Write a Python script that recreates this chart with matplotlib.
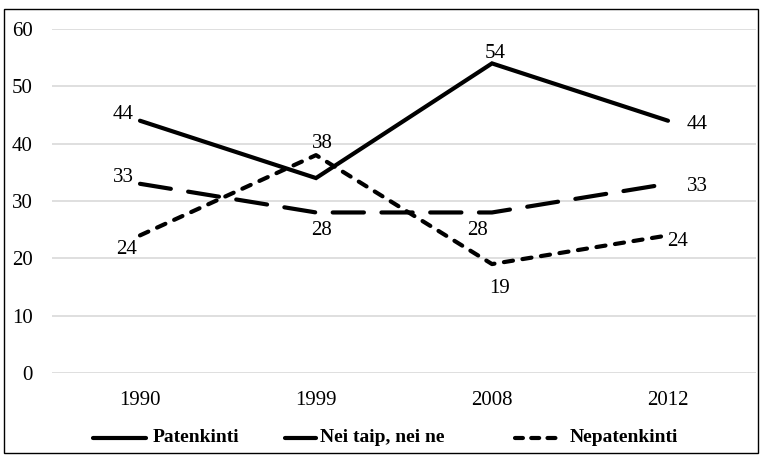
import matplotlib
matplotlib.use("Agg")
import matplotlib.pyplot as plt
from matplotlib.patches import Rectangle
from matplotlib.lines import Line2D

years = ["1990", "1999", "2008", "2012"]
patenkinti = [44, 34, 54, 44]
nei_taip = [33, 28, 28, 33]
nepatenkinti = [24, 38, 19, 24]
series_names = ["Patenkinti", "Nei taip, nei ne", "Nepatenkinti"]
yticks = [0, 10, 20, 30, 40, 50, 60]

plt.rcParams['font.family'] = ['Liberation Serif', 'DejaVu Serif']

W, H = 766, 459
fig = plt.figure(figsize=(W/100, H/100), dpi=100)
ax = fig.add_axes([52/W, 1 - 373/H, (756-52)/W, (373-29)/H])

x = list(range(len(years)))
lw = 3.0
dash_nei = (7.5, 4.2)
dash_nep = (2.2, 2.3)
ax.plot(x, patenkinti, color='black', lw=lw, solid_capstyle='round', solid_joinstyle='miter')
ax.plot(x, nei_taip, color='black', lw=lw, dashes=dash_nei, dash_capstyle='round')
ax.plot(x, nepatenkinti, color='black', lw=lw, dashes=dash_nep, dash_capstyle='round')

ax.set_xlim(-0.5, 3.5)
ax.set_ylim(0, 60)
ax.set_yticks(yticks)
ax.set_xticks(x)
ax.set_xticklabels(years)
fs = 15
ax.tick_params(length=0, labelsize=fs)
ax.tick_params(axis='x', pad=13)
ax.tick_params(axis='y', pad=14)
for s in ax.spines.values():
    s.set_visible(False)
ax.yaxis.grid(True, color='#d9d9d9', lw=1.2)
ax.set_axisbelow(True)

# label offsets in pixels (dx right, dy up) relative to the point
def lab(i, v, dx, dy):
    ax.annotate(str(v), (i, v), xytext=(dx*0.72, (dy-1.5)*0.72), textcoords='offset points',
                ha='center', va='center', fontsize=fs)

lab(0, patenkinti[0], -17, 8)
lab(2, patenkinti[2], 3, 11.5)
lab(3, patenkinti[3], 29, -2)
lab(0, nei_taip[0], -17, 8)
lab(1, nei_taip[1], 6, -16.5)
lab(2, nei_taip[2], -14, -16.5)
lab(3, nei_taip[3], 29, -1)
lab(0, nepatenkinti[0], -13, -12.5)
lab(1, nepatenkinti[1], 6, 13)
lab(2, nepatenkinti[2], 8, -23)
lab(3, nepatenkinti[3], 10, -4.5)

# manual legend (pixel positions)
ly = 1 - 438/H
def leg_entry(x0, x1, tx, text, **kw):
    fig.add_artist(Line2D([x0/W, x1/W], [ly, ly], transform=fig.transFigure, color='black', lw=lw, **kw))
    fig.text(tx/W, ly, text, ha='left', va='center', fontsize=14, fontweight='bold')

leg_entry(93, 146, 153, series_names[0], solid_capstyle='round')
leg_entry(285, 316, 320, series_names[1], solid_capstyle='round')
leg_entry(515, 563, 570, series_names[2], dashes=(1.9, 2.0), dash_capstyle='round')

fig.patches.append(Rectangle((4/W, 1 - 453/H), (758-4)/W, (453-9)/H, transform=fig.transFigure,
                             fill=False, edgecolor='black', lw=1.0))

fig.savefig("out.png", dpi=100)
